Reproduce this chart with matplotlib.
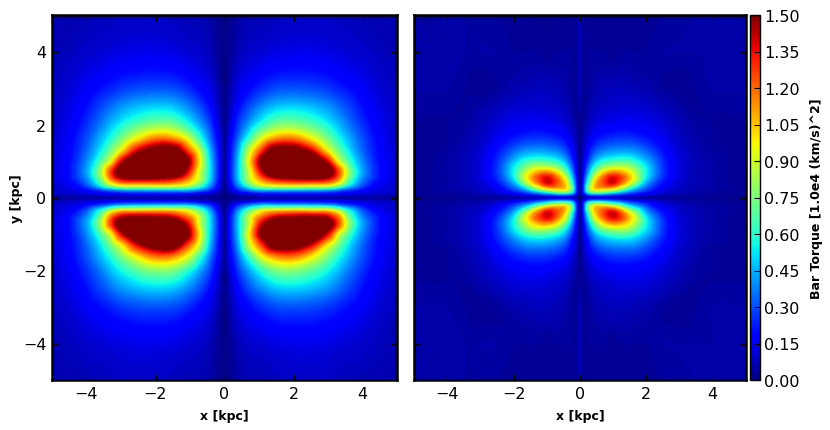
import numpy as np
import matplotlib
matplotlib.use("Agg")
import matplotlib.pyplot as plt
import matplotlib.tri as mtri
from matplotlib.cm import ScalarMappable
from matplotlib.colors import Normalize

# one quadrant (x>=0, y>=0), the panels are mirrored in both axes
x_left = [0, .15, .4, .75, 1.05, 1.5, 2, 2.5, 3, 3.3, 3.6, 4, 4.5, 5]
y_left = [0, .1, .2, .35, .5, .7, 1, 1.3, 1.6, 2, 2.5, 3, 4, 5]
torque_left = [
    [0, .01, .02, .03, .03, .03, .03, .03, .03, .03, .03, .03, .03, .02],
    [0, .03, .08, .12, .16, .17, .17, .17, .16, .15, .13, .11, .09, .07],
    [.01, .08, .22, .35, .42, .42, .42, .41, .38, .32, .25, .17, .12, .09],
    [.02, .13, .38, .70, .90, 1.0, 1.02, 1.0, .98, .82, .55, .30, .15, .10],
    [.02, .17, .46, .88, 1.12, 1.34, 1.40, 1.42, 1.35, 1.12, .70, .37, .19, .11],
    [.03, .18, .48, .92, 1.34, 1.72, 1.78, 1.78, 1.62, 1.25, .80, .42, .20, .11],
    [.03, .18, .47, 1.02, 1.48, 1.85, 1.90, 1.75, 1.35, .92, .64, .38, .19, .11],
    [.03, .16, .42, .90, 1.22, 1.62, 1.60, 1.38, .95, .72, .52, .33, .18, .11],
    [.03, .14, .34, .65, .92, 1.15, 1.18, 1.00, .74, .58, .45, .30, .17, .10],
    [.02, .10, .26, .44, .58, .74, .76, .68, .55, .46, .36, .25, .15, .10],
    [.02, .07, .18, .30, .38, .47, .49, .46, .40, .34, .28, .20, .13, .09],
    [.01, .05, .13, .19, .24, .29, .30, .29, .26, .23, .20, .16, .11, .08],
    [.01, .03, .07, .10, .11, .13, .14, .14, .13, .12, .11, .10, .08, .07],
    [.01, .02, .05, .07, .07, .08, .09, .09, .09, .08, .08, .07, .06, .06],
]

x_right = [0, .1, .25, .45, .7, 1, 1.3, 1.6, 2, 2.5, 3, 3.5, 4, 5]
y_right = [0, .07, .15, .25, .4, .55, .7, .9, 1.1, 1.4, 1.8, 2.3, 3, 4, 5]
torque_right = [
    [0, .01, .02, .02, .02, .02, .02, .02, .02, .02, .02, .02, .02, .02],
    [0, .10, .25, .30, .30, .25, .20, .15, .10, .07, .05, .04, .03, .02],
    [0, .20, .55, .70, .68, .55, .42, .30, .20, .11, .07, .05, .04, .03],
    [.01, .22, .72, 1.02, 1.05, .98, .75, .50, .30, .15, .09, .06, .05, .03],
    [.01, .20, .60, 1.02, 1.24, 1.36, 1.12, .82, .42, .20, .10, .07, .05, .03],
    [.01, .17, .50, .90, 1.18, 1.36, 1.22, .96, .52, .24, .12, .07, .05, .03],
    [.01, .14, .40, .72, .98, 1.12, 1.06, .88, .55, .26, .12, .07, .05, .03],
    [.01, .11, .30, .52, .68, .76, .78, .70, .50, .25, .12, .07, .05, .03],
    [.01, .09, .22, .38, .48, .53, .55, .52, .40, .23, .12, .07, .05, .03],
    [.01, .07, .16, .25, .31, .34, .35, .34, .28, .18, .10, .06, .04, .03],
    [.02, .05, .10, .15, .18, .20, .21, .20, .18, .13, .08, .05, .04, .03],
    [.04, .03, .06, .09, .11, .12, .13, .13, .12, .09, .06, .04, .04, .04],
    [.07, .03, .04, .06, .07, .08, .08, .07, .06, .04, .03, .04, .05, .05],
    [.07, .03, .04, .04, .04, .03, .04, .04, .04, .05, .05, .05, .05, .05],
    [.07, .03, .03, .03, .03, .03, .03, .03, .03, .04, .04, .05, .05, .05],
]

ticks_xy = [-4, -2, 0, 2, 4]
ticks_bar = [0.00, 0.15, 0.30, 0.45, 0.60, 0.75, 0.90, 1.05, 1.20, 1.35, 1.50]


def mirror(x, y, z):
    x = np.array(x)
    y = np.array(y)
    z = np.array(z)
    xx = np.concatenate((-x[:0:-1], x))
    yy = np.concatenate((-y[:0:-1], y))
    zz = np.hstack((z[:, :0:-1], z))
    zz = np.vstack((zz[:0:-1], zz))
    return xx, yy, zz


def px_axes(fig, left, top, right, bottom):
    W, H = 830.0, 431.0
    return fig.add_axes([left / W, 1 - bottom / H, (right - left) / W, (bottom - top) / H])


plt.rcParams["font.family"] = "DejaVu Sans"
levels = np.linspace(0, 1.5, 151)

fig = plt.figure(figsize=(8.3, 4.31), dpi=100)
ax1 = px_axes(fig, 52, 16, 397, 381)
ax2 = px_axes(fig, 414, 16, 746, 381)
cax = px_axes(fig, 750, 16, 760, 381)

for ax, x, y, z in ((ax1, x_left, y_left, torque_left), (ax2, x_right, y_right, torque_right)):
    xx, yy, zz = mirror(x, y, z)
    gx, gy = np.meshgrid(xx, yy)
    tri = mtri.Triangulation(gx.ravel(), gy.ravel())
    # smooth rendering of the table, same idea as imshow with bicubic
    cubic = mtri.CubicTriInterpolator(tri, zz.ravel(), kind="geom")
    fine, fine_z = mtri.UniformTriRefiner(tri).refine_field(zz.ravel(), triinterpolator=cubic, subdiv=3)
    ax.tricontourf(fine, fine_z, levels=levels, cmap="jet", extend="both")
    ax.set_xlim(-5, 5)
    ax.set_ylim(-5, 5)
    ax.set_xticks(ticks_xy)
    ax.set_yticks(ticks_xy)
    ax.tick_params(direction="in", top=True, right=True, length=4, width=0.8, labelsize=11.5, pad=4)
    ax.set_xlabel("x [kpc]", fontsize=9, fontweight="bold", labelpad=6)
    for s in ax.spines.values():
        s.set_linewidth(1.8)

ax1.set_ylabel("y [kpc]", fontsize=9, fontweight="bold", labelpad=0)
ax2.tick_params(labelleft=False)

sm = ScalarMappable(norm=Normalize(0, 1.5), cmap="jet")
cb = fig.colorbar(sm, cax=cax, ticks=ticks_bar)
cb.ax.set_yticklabels(["%.2f" % t for t in ticks_bar])
cb.ax.tick_params(direction="in", length=4, width=0.8, labelsize=11.5, pad=3)
cb.set_label("Bar Torque [1.0e4 (km/s)^2]", fontsize=9, fontweight="bold", labelpad=7)
cb.outline.set_linewidth(1.0)

fig.savefig("out.png", dpi=100)
